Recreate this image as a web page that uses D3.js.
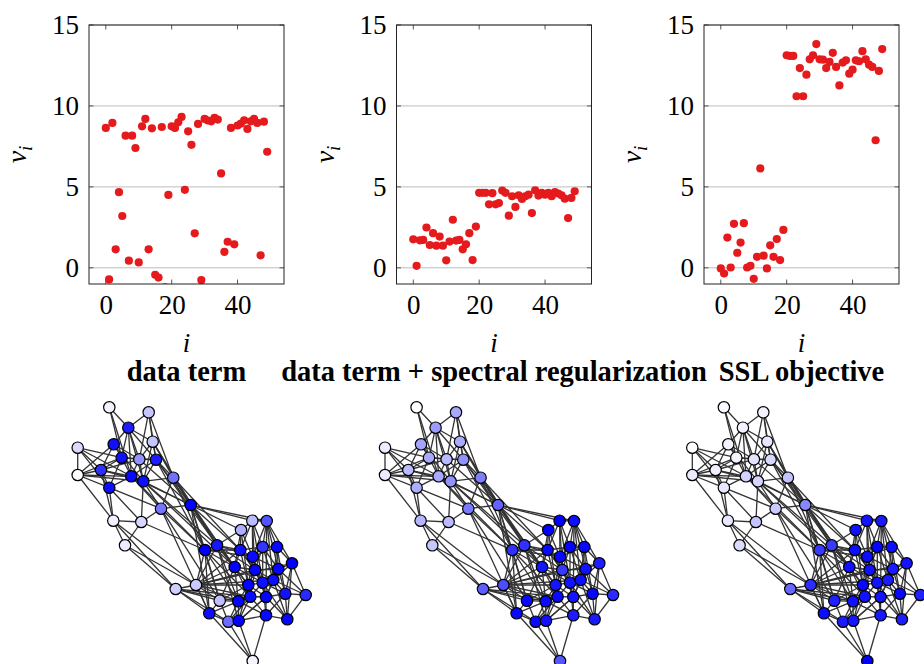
<!DOCTYPE html>
<html>
<head>
<meta charset="utf-8">
<script src="https://cdn.jsdelivr.net/npm/d3@7"></script>
<style>
  html, body { margin: 0; padding: 0; background: #fff; }
  svg { display: block; }
  svg text { font-family: "Liberation Serif", "Times New Roman", serif; }
</style>
</head>
<body>
<svg id="chart" width="924" height="664"></svg>
<script>
// v_i per node index for each objective
const dataTerm = [8.64, -0.72, 8.95, 1.14, 4.67, 3.2, 8.16, 0.44, 8.16, 7.4,
  0.33, 8.74, 9.2, 1.14, 8.62, -0.43, -0.6, 8.7, -1.2, 4.5,
  8.74, 8.64, 8.99, 9.32, 4.82, 8.43, 7.6, 2.13, 8.89, -0.76,
  9.2, 9.1, 9.05, 9.26, 9.16, 5.83, 0.99, 1.61, 8.64, 1.45,
  8.79, 8.91, 9.11, 8.58, 9.05, 9.2, 8.95, 0.77, 9.03, 7.17];
const spectralReg = [1.76, 0.12, 1.70, 1.72, 2.49, 1.41, 2.14, 1.37, 1.93, 1.37,
  0.46, 1.62, 2.97, 1.68, 1.72, 1.14, 1.45, 2.14, 0.48, 2.55,
  4.63, 4.63, 4.63, 3.92, 4.61, 3.92, 4.0, 4.77, 4.63, 3.22,
  4.42, 3.76, 4.48, 4.25, 4.42, 4.52, 3.38, 4.79, 4.46, 4.63,
  4.52, 4.63, 4.42, 4.67, 4.59, 4.48, 4.27, 3.07, 4.32, 4.73];
const sslObjective = [-0.04, -0.35, 1.87, 0.02, 2.72, 0.93, 1.56, 2.76, 0.02, 0.12,
  -0.68, 0.68, 6.14, 0.75, -0.04, 1.39, 0.68, 1.78, 0.48, 2.34,
  13.13, 13.09, 13.09, 10.6, 12.34, 10.6, 11.93, 12.88, 13.13, 13.82,
  12.88, 12.86, 12.34, 12.72, 13.28, 12.41, 11.27, 12.68, 12.82, 11.99,
  12.24, 12.82, 12.76, 13.38, 12.88, 12.55, 12.41, 7.88, 12.16, 13.51];

const panelTitles = ["data term", "data term + spectral regularization", "SSL objective"];
const xTicks = [0, 20, 40];
const yTicks = [0, 5, 10, 15];

// graph: data index carried by each drawn node, and its layout position
const nodeIndex = [1, 3, 8, 10, 0, 13, 14, 5, 6, 18,
  9, 2, 17, 4, 11, 12, 19, 16, 7, 15,
  47, 36, 37, 35, 27, 23, 25, 21, 49, 22,
  28, 30, 31, 32, 33, 34, 38, 40, 41, 42,
  43, 26, 44, 39, 20, 24, 45, 46, 48, 29];
const nodeX = [109.3, 148.7, 128.3, 77.7, 113.7, 152.7, 121.7, 139.3, 156, 77.7,
  101, 131.3, 143.3, 173.3, 109.3, 190.7, 161, 113.3, 141.3, 125,
  175.7, 196, 252.3, 266.7, 241, 205, 217, 240.3, 262.7, 277,
  252.7, 234.7, 255, 278.3, 292, 248.3, 262.7, 273.3, 250.3, 266,
  285.3, 305.7, 238.3, 219.7, 209.3, 228.3, 238.7, 266, 287.3, 252.7];
const nodeY = [407.3, 412.3, 427.7, 447.7, 444.3, 441.7, 457.7, 459.3, 459.7, 475,
  470, 476.3, 481.3, 477.7, 487.7, 505, 508.7, 520.7, 522, 545.3,
  589, 585, 520.7, 521, 530, 550, 545.3, 550, 547, 547,
  556.7, 567, 570, 569, 563.3, 585, 582.7, 580, 596.7, 597,
  593.7, 595, 601.3, 600.7, 613.3, 621.7, 620.7, 615.3, 619.3, 661];
const edges = [
  [0,2],[0,6],[0,11],[1,2],[1,5],[1,8],[1,13],[1,7],
  [2,4],[2,6],[2,7],[2,11],[2,12],[2,5],[2,8],
  [3,9],[3,6],[3,10],[3,11],[3,14],
  [4,6],[4,10],[4,9],[4,7],[4,12],
  [5,7],[5,8],[5,13],[5,12],
  [6,7],[6,10],[6,11],[6,9],[6,8],[6,14],
  [7,11],[7,12],[7,8],[7,10],
  [8,12],[8,13],[8,15],[8,11],
  [9,10],[9,11],[9,14],[9,17],[9,12],
  [10,14],[10,11],[10,17],[10,12],
  [11,12],[11,14],[11,16],[11,15],
  [12,15],[12,16],[12,18],[12,13],
  [13,15],[13,16],[14,17],[14,16],[14,18],
  [16,18],[16,15],[17,19],[17,18],[17,20],[17,21],
  [18,19],[19,20],[19,21],[20,21],
  [15,22],[15,24],[15,25],[15,26],[15,27],[15,31],[15,23],[15,44],[15,43],
  [13,25],[13,26],[8,26],[12,31],[16,25],[11,25],[16,43],[18,25],[5,15],[13,31],
  [5,26],[8,25],[12,26],[13,27],[16,44],[7,15],
  [21,25],[21,26],[21,31],[21,35],[21,38],[21,43],[21,44],[21,42],[21,27],[21,37],
  [21,34],[21,32],
  [20,44],[20,45],[20,43],[20,42],[20,38],
  [22,23],[22,24],[22,27],[22,28],[22,30],[22,32],[22,36],
  [23,28],[23,29],[23,30],[23,33],[23,34],[23,37],[23,39],
  [24,26],[24,27],[24,30],[24,31],[24,35],
  [25,26],[25,31],[25,43],[25,44],[25,42],[25,27],[25,38],[25,30],
  [26,27],[26,31],[26,35],[26,42],[26,46],[26,30],[26,32],
  [27,30],[27,31],[27,32],[27,35],[27,28],[27,36],
  [28,29],[28,30],[28,33],[28,36],[28,32],[28,37],
  [29,33],[29,34],[29,37],[29,40],[29,30],
  [30,32],[30,36],[30,35],[30,33],[30,38],
  [31,35],[31,38],[31,42],[31,32],[31,43],[31,36],
  [32,33],[32,36],[32,35],[32,37],[32,39],[32,38],
  [33,34],[33,37],[33,40],[33,36],[33,39],
  [34,40],[34,41],[34,37],[34,48],
  [35,36],[35,38],[35,42],[35,39],[35,46],
  [36,37],[36,39],[36,38],[36,47],[36,40],
  [37,40],[37,39],[37,41],[37,48],
  [38,39],[38,42],[38,46],[38,47],[38,45],
  [39,40],[39,47],[39,48],[39,46],
  [40,41],[40,48],[40,47],[41,48],[41,33],
  [42,43],[42,45],[42,46],[42,44],[42,47],
  [43,44],[43,45],[43,35],[43,38],
  [44,45],[44,49],[45,46],[45,49],
  [46,47],[46,49],[46,39],[47,48],[47,49],[48,36]
];

const series = [dataTerm, spectralReg, sslObjective];
const svg = d3.select("#chart");

const panelStep = 307.5;
const plotLeft = 89, plotW = 195, plotTop = 25, plotBottom = 284;

const y = d3.scaleLinear().domain([-1, 15]).range([plotBottom, plotTop]);

series.forEach((vals, p) => {
  const x0 = plotLeft + p * panelStep;
  const x = d3.scaleLinear().domain([-5.1, 54.1]).range([x0, x0 + plotW]);
  const g = svg.append("g");

  const clipId = "clip" + p;
  svg.append("clipPath").attr("id", clipId)
    .append("rect").attr("x", x0).attr("y", plotTop).attr("width", plotW).attr("height", plotBottom - plotTop);

  // horizontal grid
  g.selectAll("line.grid").data(yTicks).join("line")
    .attr("x1", x0).attr("x2", x0 + plotW)
    .attr("y1", d => y(d)).attr("y2", d => y(d))
    .attr("stroke", "#bdbdbd").attr("stroke-width", 1);

  // inner tick marks
  const tk = 4.5;
  yTicks.forEach(t => {
    g.append("line").attr("x1", x0).attr("x2", x0 + tk).attr("y1", y(t)).attr("y2", y(t))
      .attr("stroke", "#555").attr("stroke-width", 1);
    g.append("line").attr("x1", x0 + plotW - tk).attr("x2", x0 + plotW).attr("y1", y(t)).attr("y2", y(t))
      .attr("stroke", "#555").attr("stroke-width", 1);
  });
  xTicks.forEach(t => {
    g.append("line").attr("x1", x(t)).attr("x2", x(t)).attr("y1", plotTop).attr("y2", plotTop + tk)
      .attr("stroke", "#555").attr("stroke-width", 1);
    g.append("line").attr("x1", x(t)).attr("x2", x(t)).attr("y1", plotBottom - tk).attr("y2", plotBottom)
      .attr("stroke", "#555").attr("stroke-width", 1);
  });

  // points
  g.append("g").attr("clip-path", `url(#${clipId})`)
    .selectAll("circle").data(vals).join("circle")
    .attr("cx", (d, i) => x(i)).attr("cy", d => y(d)).attr("r", 4.1)
    .attr("fill", "#e41a1c");

  // frame
  g.append("rect").attr("x", x0).attr("y", plotTop).attr("width", plotW).attr("height", plotBottom - plotTop)
    .attr("fill", "none").attr("stroke", "#222").attr("stroke-width", 1);

  // tick labels via axis generators
  const yAxis = d3.axisLeft(y).tickValues(yTicks).tickSize(0).tickPadding(10);
  const ya = g.append("g").attr("transform", `translate(${x0},0)`).call(yAxis);
  ya.attr("font-family", null);
  ya.select(".domain").remove();
  ya.selectAll("text").style("font-family", "'Liberation Serif', serif").style("font-size", "27px").attr("fill", "#000");

  const xAxis = d3.axisBottom(x).tickValues(xTicks).tickSize(0).tickPadding(11);
  const xa = g.append("g").attr("transform", `translate(0,${plotBottom})`).call(xAxis);
  xa.attr("font-family", null);
  xa.select(".domain").remove();
  xa.selectAll("text").style("font-family", "'Liberation Serif', serif").style("font-size", "27px").attr("fill", "#000");

  // axis labels
  g.append("text").attr("x", x0 + plotW / 2).attr("y", 352)
    .attr("text-anchor", "middle").style("font-style", "italic")
    .style("font-size", "27px").text("i");
  const yl = g.append("text")
    .attr("transform", `translate(${x0 - 63},${(plotTop + plotBottom) / 2}) rotate(-90)`)
    .attr("text-anchor", "middle").style("font-style", "italic")
    .style("font-size", "28px");
  yl.append("tspan").text("v");
  yl.append("tspan").style("font-size", "19px").attr("dy", 6).text("i");

  // title
  svg.append("text").attr("x", x0 + plotW / 2).attr("y", 381)
    .attr("text-anchor", "middle").style("font-weight", "bold")
    .style("font-size", "28.5px").text(panelTitles[p]);

  // graph with node shading by v_i
  const color = d3.scaleLinear().domain(d3.extent(vals)).range(["#ffffff", "#0000ff"]).clamp(true);
  const gx = d3.scaleLinear().domain([0, 300]).range([p * 307.3, p * 307.3 + 300]);
  const gy = d3.scaleLinear().domain([0, 300]).range([0, 300]);
  const gg = svg.append("g");
  gg.selectAll("line").data(edges).join("line")
    .attr("x1", d => gx(nodeX[d[0]])).attr("y1", d => gy(nodeY[d[0]]))
    .attr("x2", d => gx(nodeX[d[1]])).attr("y2", d => gy(nodeY[d[1]]))
    .attr("stroke", "#333").attr("stroke-width", 1.3);
  gg.selectAll("circle").data(nodeIndex).join("circle")
    .attr("cx", (d, k) => gx(nodeX[k])).attr("cy", (d, k) => gy(nodeY[k])).attr("r", 5.7)
    .attr("fill", d => color(vals[d])).attr("stroke", "#000").attr("stroke-width", 1.2);
});
</script>
</body>
</html>
